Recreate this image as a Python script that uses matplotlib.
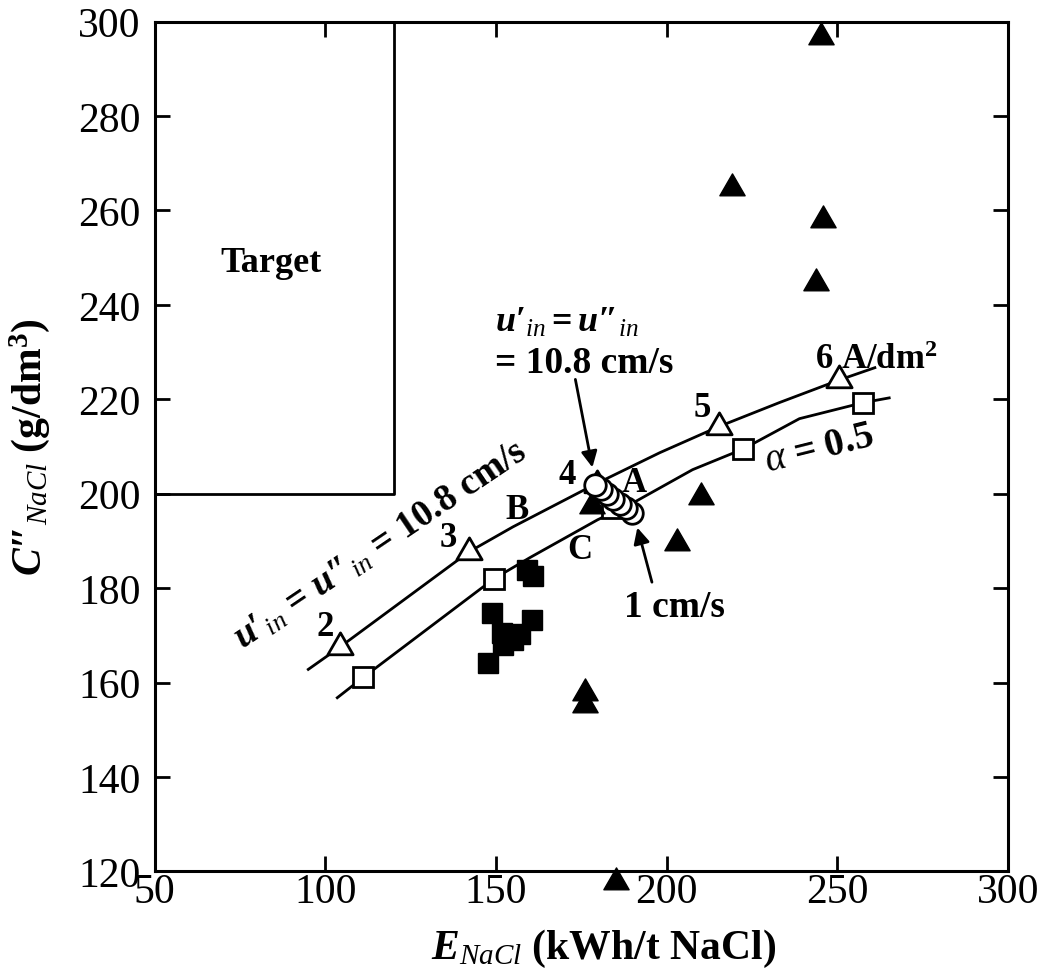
import matplotlib
matplotlib.use("Agg")
import matplotlib.pyplot as plt
from matplotlib.path import Path

# ---- data ----
# curve B (upper, u'in = u''in = 10.8 cm/s)
curve_b_x = [95, 104.4, 142.1, 155, 179, 198, 215.2, 233, 250.6, 261]
curve_b_y = [162.8, 167.6, 187.7, 193, 202, 208.7, 214.2, 219.3, 224.1, 226.7]
# curve C (lower, alpha = 0.5)
curve_c_x = [103.5, 111.1, 149.4, 160, 179.8, 190, 207.6, 222.5, 238.9, 257.6, 265.2]
curve_c_y = [156.8, 161.1, 182.0, 186.5, 194.5, 198, 205.1, 209.5, 215.9, 219.3, 220.3]

# open triangles on curve B: current density 2..6 A/dm2
tri_open_x = [104.4, 142.1, 179.5, 215.2, 250.6]
tri_open_y = [167.6, 187.7, 201.8, 214.2, 224.1]
tri_open_lbl = ["2", "3", "4", "5", "6 A/dm$^{\\mathrm{2}}$"]

# open squares on curve C
sq_open_x = [111.1, 149.4, 184, 222.5, 257.6]
sq_open_y = [161.1, 182.0, 197, 209.5, 219.3]

# open circles, series A (10.8 cm/s ... 1 cm/s)
circ_x = [179, 180.8, 182.6, 184.4, 186.2, 188, 189.8]
circ_y = [201.9, 200.9, 199.9, 198.9, 197.9, 196.9, 195.9]

# filled triangles
tri_fill_x = [245.3, 219, 245.9, 243.9, 210.2, 202.9, 178, 176, 176, 185.1]
tri_fill_y = [296.8, 264.8, 258, 244.7, 199.4, 189.6, 197.3, 157.9, 155.3, 117.7]

# filled squares
sq_fill_x = [159.1, 160.8, 148.8, 160.5, 151.8, 157, 152, 155, 147.7]
sq_fill_y = [183.9, 182.6, 174.8, 173.3, 170.6, 170.2, 168, 169, 164.2]

# target region
target_x = [50, 120, 120]
target_y = [200, 200, 300]

plt.rcParams["font.family"] = ["Liberation Serif", "DejaVu Serif"]
plt.rcParams["mathtext.fontset"] = "custom"
plt.rcParams["mathtext.rm"] = "Liberation Serif:bold"
plt.rcParams["mathtext.bf"] = "Liberation Serif:bold"
plt.rcParams["mathtext.it"] = "Liberation Serif:italic:bold"
plt.rcParams["mathtext.sf"] = "Liberation Serif:italic"

fig = plt.figure(figsize=(10.48, 9.78), dpi=100)
ax = fig.add_axes([0.1476, 0.1079, 0.8142, 0.869])

ax.plot(target_x, target_y, color="black", lw=2.0)
ax.plot(curve_b_x, curve_b_y, color="black", lw=2.0)
ax.plot(curve_c_x, curve_c_y, color="black", lw=2.0)

# equilateral triangle marker, closed so the open ones get all three edges
tri = Path([(-1, -0.577), (1, -0.577), (0, 1.155), (-1, -0.577)], closed=True)

ax.plot(sq_fill_x, sq_fill_y, ls="none", marker="s", ms=14, color="black")
ax.plot(tri_fill_x, tri_fill_y, ls="none", marker=tri, ms=21, color="black",
        clip_on=False, zorder=5)
ax.plot(tri_open_x, tri_open_y, ls="none", marker=tri, ms=21, mfc="white",
        mec="black", mew=2)
ax.plot(sq_open_x, sq_open_y, ls="none", marker="s", ms=14, mfc="white",
        mec="black", mew=2)
# draw 1 cm/s first so 10.8 cm/s sits on top
for i in range(len(circ_x) - 1, -1, -1):
    ax.plot(circ_x[i], circ_y[i], ls="none", marker="o", ms=15.5, mfc="white",
            mec="black", mew=2, zorder=6)

# labels on triangles
lbl_pos = [(100, 171.9), (136, 190.7), (171, 204), (210.5, 218.2), (243.5, 228.4)]
for (lx, ly), t in zip(lbl_pos, tri_open_lbl):
    ax.text(lx, ly, t, fontsize=25, fontweight="bold",
            ha="center" if len(t) == 1 else "left", va="center")

ax.text(84, 249, "Target", fontsize=26, fontweight="bold", ha="center", va="center")
ax.text(190.5, 202.3, "A", fontsize=25, fontweight="bold", ha="center", va="center", zorder=7)
ax.text(156.1, 196.6, "B", fontsize=25, fontweight="bold", ha="center", va="center")
ax.text(174.6, 188.1, "C", fontsize=25, fontweight="bold", ha="center", va="center")
ax.text(202.3, 176.1, "1 cm/s", fontsize=27, fontweight="bold", ha="center", va="center")
ax.text(244.7, 209.7, r"$\mathsf{\alpha}$ = 0.5", fontsize=28, fontweight="bold",
        ha="center", va="center", rotation=14, rotation_mode="anchor")
ax.text(116.1, 189.2,
        r"$\mathit{u}\mathrm{′}_{\mathsf{in}}$ = $\mathit{u}\mathrm{″}_{\mathsf{in}}$ = 10.8 cm/s",
        fontsize=27, fontweight="bold", ha="center", va="center", rotation=34,
        rotation_mode="anchor")
ax.text(149.7, 236.4, r"$\mathit{u}\mathrm{′}_{\mathsf{in}}\mathrm{=}\mathit{u}\mathrm{″}_{\mathsf{in}}$",
        fontsize=26, fontweight="bold", ha="left", va="center")
ax.text(149.7, 227.9, "= 10.8 cm/s", fontsize=27, fontweight="bold", ha="left", va="center")

ax.annotate("", xy=(178.4, 205), xytext=(173.1, 224.8),
            arrowprops=dict(arrowstyle="-|>", color="black", lw=2, mutation_scale=24))
ax.annotate("", xy=(191.2, 193.4), xytext=(195.9, 180.7),
            arrowprops=dict(arrowstyle="-|>", color="black", lw=2, mutation_scale=24))

ax.set_xlim(50, 300)
ax.set_ylim(120, 300)
ax.set_xticks([50, 100, 150, 200, 250, 300])
ax.set_yticks([120, 140, 160, 180, 200, 220, 240, 260, 280, 300])
ax.tick_params(direction="in", top=True, right=True, length=11, width=2, labelsize=30)
ax.tick_params(axis="x", pad=1)
ax.tick_params(axis="y", pad=10)
for s in ax.spines.values():
    s.set_linewidth(2.2)

ax.set_xlabel(r"$\mathit{E}_{\mathsf{NaCl}}$ (kWh/t NaCl)", fontsize=30, fontweight="bold")
ax.xaxis.set_label_coords(0.526, -0.065)
ax.set_ylabel(r"$\mathit{C}\mathrm{″}_{\mathsf{NaCl}}$ (g/dm$^{\mathrm{3}}$)", fontsize=30,
              fontweight="bold")
ax.yaxis.set_label_coords(-0.12, 0.5)

fig.savefig("out.png", dpi=100)
